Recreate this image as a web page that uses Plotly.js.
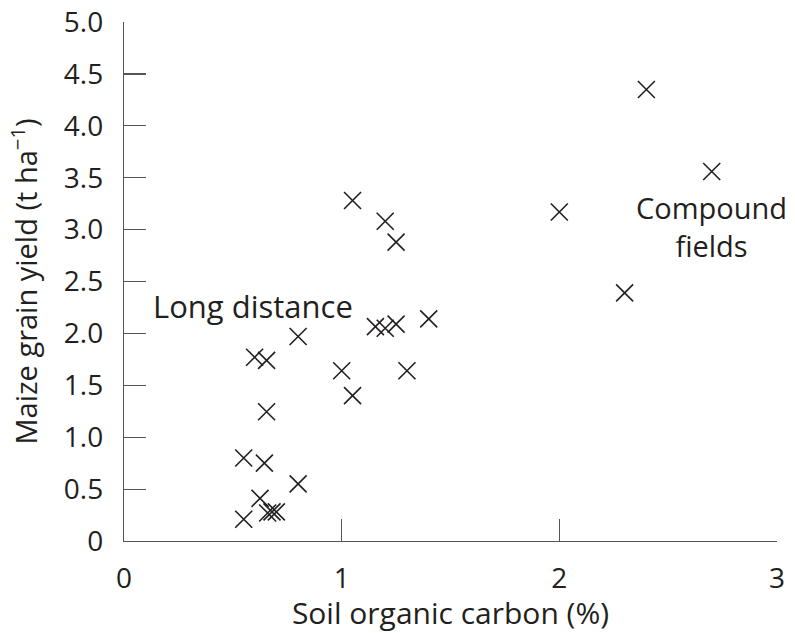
<!DOCTYPE html>
<html>
<head>
<meta charset="utf-8">
<script src="https://cdn.plot.ly/plotly-3.0.1.min.js"></script>
<style>html,body{margin:0;padding:0;background:#fff;}#chart{width:795px;height:633px;}</style>
</head>
<body>
<div id="chart"></div>
<script>
var soilCarbon = [2.40, 2.70, 2.00, 2.30, 1.05, 1.20, 1.25, 1.155, 1.20, 1.25, 1.40, 0.80, 0.60, 0.655, 1.00, 1.30, 1.05, 0.655, 0.55, 0.645, 0.80, 0.625, 0.55, 0.66, 0.68, 0.70];
var grainYield = [4.35, 3.56, 3.17, 2.39, 3.28, 3.08, 2.88, 2.065, 2.05, 2.09, 2.14, 1.97, 1.77, 1.74, 1.64, 1.64, 1.40, 1.245, 0.80, 0.75, 0.55, 0.41, 0.21, 0.27, 0.28, 0.28];
var yTickVals = [0, 0.5, 1, 1.5, 2, 2.5, 3, 3.5, 4, 4.5, 5];
var yTickText = ["0", "0.5", "1.0", "1.5", "2.0", "2.5", "3.0", "3.5", "4.0", "4.5", "5.0"];
var xTickVals = [0, 1, 2, 3];
var xTickText = ["0", "1", "2", "3"];
var labelText = ["Long distance", "Compound<br>fields"];
var labelX = [0.593, 2.699];
var labelY = [2.264, 3.03];
var labelSize = [31, 29];

var font = "Open Sans, Noto Sans, sans-serif";
var ink = "#231f20";
var trace = {
  x: soilCarbon, y: grainYield, type: "scatter", mode: "markers",
  marker: {symbol: "x-thin", size: 17, line: {width: 1.6, color: ink}, color: ink},
  hoverinfo: "skip", cliponaxis: false
};
var annotations = labelText.map(function(t, i){
  return {x: labelX[i], y: labelY[i], xref: "x", yref: "y", text: t, showarrow: false, align: "center",
    font: {family: font, size: labelSize[i], color: ink}};
});
var layout = {
  width: 795, height: 633,
  margin: {l: 124, r: 18, t: 22, b: 92, pad: 0},
  paper_bgcolor: "#fff", plot_bgcolor: "#fff",
  showlegend: false,
  font: {family: font, size: 28, color: ink},
  xaxis: {range: [0, 3], tickvals: xTickVals, ticktext: xTickText, ticks: "inside", ticklen: 22,
    tickcolor: "#555", tickwidth: 1.2, showline: true, linecolor: "#555", linewidth: 1.2,
    showgrid: false, zeroline: false, ticklabelstandoff: 12,
    tickfont: {family: font, size: 28, color: ink},
    title: {text: "Soil organic carbon (%)", font: {family: font, size: 30, color: ink}, standoff: 11}},
  yaxis: {range: [0, 5], tickvals: yTickVals, ticktext: yTickText, ticks: "inside", ticklen: 22,
    tickcolor: "#555", tickwidth: 1.2, showline: true, linecolor: "#555", linewidth: 1.2,
    showgrid: false, zeroline: false, ticklabelstandoff: 14,
    tickfont: {family: font, size: 28, color: ink},
    title: {text: "Maize grain yield (t ha<sup>−1</sup>)", font: {family: font, size: 29, color: ink}, standoff: 17}},
  annotations: annotations
};
Plotly.newPlot("chart", [trace], layout, {staticPlot: true, displayModeBar: false});
</script>
</body>
</html>
